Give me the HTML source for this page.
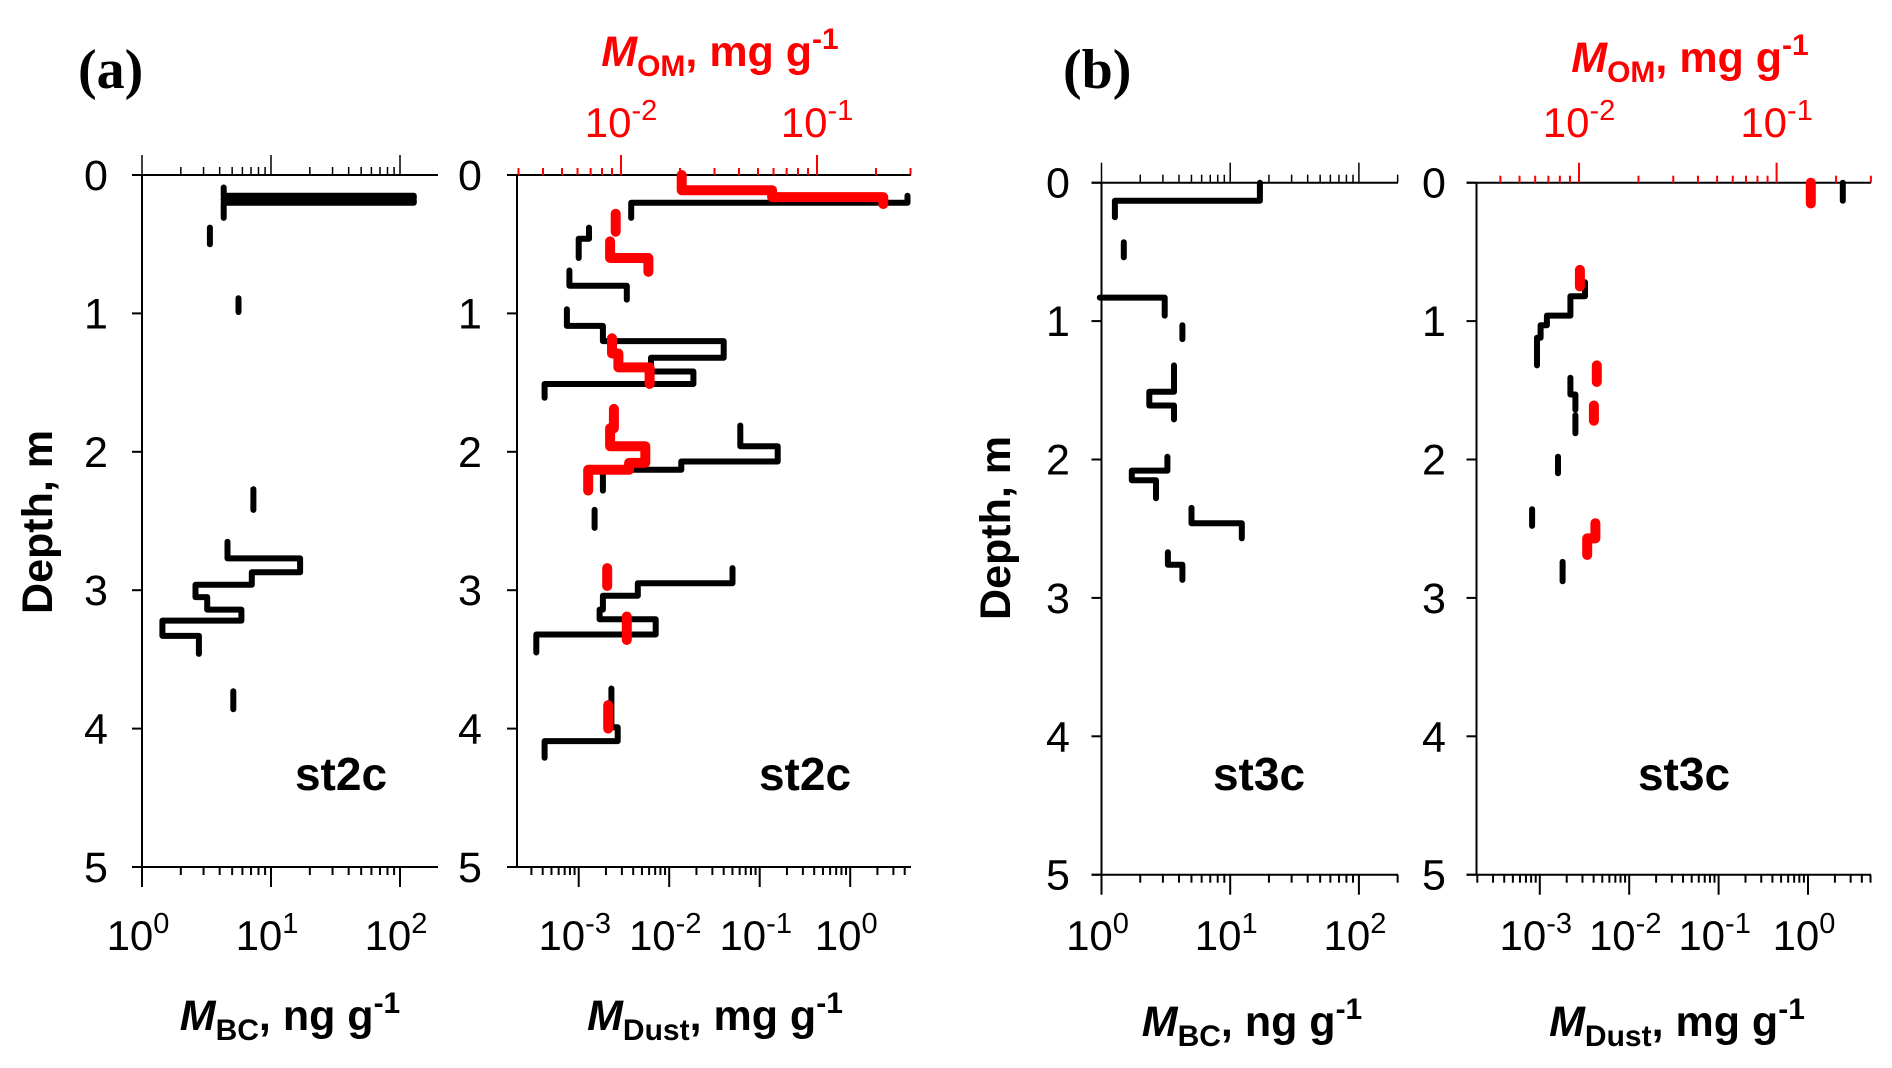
<!DOCTYPE html>
<html><head><meta charset="utf-8">
<style>
html,body{margin:0;padding:0;background:#fff;}
svg{display:block;font-family:"Liberation Sans",Arial,sans-serif;}
</style></head>
<body>
<svg id="fig" width="1892" height="1068" viewBox="0 0 1892 1068" xmlns="http://www.w3.org/2000/svg">
<text x="78" y="88" font-family="Liberation Serif, serif" font-weight="bold" font-size="56">(a)</text>
<text x="1063" y="88" font-family="Liberation Serif, serif" font-weight="bold" font-size="56">(b)</text>
<g id="layer"></g>
</svg>
<script>
// ---- data: each run is a list of [value, depthTop, depthBottom] steps ----
const bcA = [
  [[4.3,0.09,0.15],[128,0.15,0.167],[4.3,0.167,0.183],[128,0.183,0.2],[4.3,0.2,0.31]],
  [[3.36,0.38,0.5]],
  [[5.6,0.89,0.99]],
  [[7.3,2.27,2.42]],
  [[4.6,2.65,2.77],[16.8,2.77,2.87],[7.1,2.87,2.96],[2.6,2.96,3.05],[3.2,3.05,3.14],[5.9,3.14,3.22],[1.44,3.22,3.33],[2.76,3.33,3.46]],
  [[5.1,3.73,3.86]]
];
const dustA = [
  [[4.3,0.15,0.2],[0.0038,0.2,0.31]],
  [[0.0013,0.38,0.46],[0.001,0.46,0.6]],
  [[0.00079,0.69,0.8],[0.0034,0.8,0.9]],
  [[0.00074,0.97,1.09],[0.00185,1.09,1.2],[0.04,1.2,1.32],[0.0063,1.32,1.42],[0.0185,1.42,1.51],[0.00042,1.51,1.61]],
  [[0.061,1.81,1.96],[0.158,1.96,2.07],[0.0136,2.07,2.13],[0.00185,2.13,2.28]],
  [[0.0015,2.42,2.55]],
  [[0.05,2.84,2.95],[0.0045,2.95,3.04],[0.00185,3.04,3.14],[0.0017,3.14,3.21],[0.0071,3.21,3.32],[0.00034,3.32,3.45]],
  [[0.0023,3.71,3.99],[0.0027,3.99,4.09],[0.00042,4.09,4.21]]
];
const omA = [
  [[0.0204,0.0,0.11],[0.059,0.11,0.16],[0.218,0.16,0.21]],
  [[0.0094,0.28,0.41]],
  [[0.0088,0.48,0.6],[0.0138,0.6,0.7]],
  [[0.009,1.18,1.29],[0.0097,1.29,1.39],[0.014,1.39,1.51]],
  [[0.0092,1.69,1.83],[0.0088,1.83,1.96],[0.0133,1.96,2.08],[0.011,2.08,2.13],[0.0068,2.13,2.28]],
  [[0.0085,2.84,2.97]],
  [[0.0107,3.19,3.36]],
  [[0.0086,3.83,4.0]]
];
const bcB = [
  [[17,0.0,0.13],[1.27,0.13,0.25]],
  [[1.49,0.43,0.54]],
  [[0.97,0.83,0.83],[3.1,0.83,0.96]],
  [[4.25,1.03,1.13]],
  [[3.66,1.32,1.51],[2.35,1.51,1.61],[3.66,1.61,1.71]],
  [[3.25,1.98,2.08],[1.72,2.08,2.15],[2.65,2.15,2.28]],
  [[5.0,2.35,2.46],[12.3,2.46,2.57]],
  [[3.28,2.67,2.76],[4.25,2.76,2.87]]
];
const dustB = [
  [[2.45,0.0,0.13]],
  [[0.0032,0.72,0.82],[0.0022,0.82,0.96],[0.0012,0.96,1.03],[0.00102,1.03,1.12],[0.00093,1.12,1.32]],
  [[0.0022,1.41,1.53],[0.0025,1.53,1.64]],
  [[0.0025,1.68,1.81]],
  [[0.0016,1.98,2.1]],
  [[0.00082,2.36,2.48]],
  [[0.0018,2.74,2.88]]
];
const omB = [
  [[0.149,0.0,0.15]],
  [[0.0101,0.63,0.75]],
  [[0.0123,1.32,1.44]],
  [[0.0119,1.61,1.72]],
  [[0.0121,2.46,2.57],[0.011,2.57,2.69]]
];
const depthTicks = [0,1,2,3,4,5];
const bcTickLabels = [0,1,2];
const dustTickLabels = [-3,-2,-1,0];
const omTickLabels = [-2,-1];

const NS = "http://www.w3.org/2000/svg";
const layer = document.getElementById('layer');
function mk(tag, attrs, parent){
  const e = document.createElementNS(NS, tag);
  for (const k in attrs) e.setAttribute(k, attrs[k]);
  (parent||layer).appendChild(e);
  return e;
}
const panels = {
  aL:{ax:142, right:438, top:175, bottom:867, d0:0, x0:142, ppd:129, lab:96},
  aR:{ax:517, right:911, top:175, bottom:867, d0:-3, x0:578.7, ppd:90.5, o0:-2, ox0:621, oppd:196, lab:470},
  bL:{ax:1101.5, right:1398, top:182.7, bottom:874.7, d0:0, x0:1101.5, ppd:128.7, lab:1058},
  bR:{ax:1476.5, right:1871, top:182.7, bottom:874.7, d0:-3, x0:1539.8, ppd:89.4, o0:-2, ox0:1579, oppd:197.6, lab:1434}
};
function yScale(p, d){ return p.top + d*(p.bottom-p.top)/5; }
function xScale(p, v){ return p.x0 + (Math.log10(v)-p.d0)*p.ppd; }
function oScale(p, v){ return p.ox0 + (Math.log10(v)-p.o0)*p.oppd; }

function drawAxes(p, name, hasOM){
  const g = mk('g', {});
  
  
  mk('line',{x1:p.ax,y1:p.top,x2:p.ax,y2:p.bottom,stroke:'#000','stroke-width':2},g);
  mk('line',{x1:p.ax-10,y1:p.bottom,x2:p.right,y2:p.bottom,stroke:'#000','stroke-width':2},g);
  mk('line',{x1:p.ax-10,y1:p.top,x2:p.right,y2:p.top,stroke:'#000','stroke-width':2},g);
  depthTicks.forEach(d=>{
    const y=yScale(p,d);
    mk('line',{x1:p.ax-10,y1:y,x2:p.ax,y2:y,stroke:'#000','stroke-width':2},g);
    const t=mk('text',{x:p.lab,y:y+15,'font-size':43,'text-anchor':'middle'},g);
    
    
    t.textContent=String(d);
  });
  const lmin=(p.ax-p.x0)/p.ppd+p.d0, lmax=(p.right-p.x0)/p.ppd+p.d0;
  for(let n=Math.floor(lmin); n<=Math.ceil(lmax); n++){
    for(let k=1;k<=9;k++){
      const l=n+Math.log10(k);
      if(l<lmin-1e-6||l>lmax+1e-6) continue;
      const x=p.x0+(l-p.d0)*p.ppd, len=k===1?20:8;
      mk('line',{x1:x,y1:p.bottom,x2:x,y2:p.bottom+len,stroke:'#000','stroke-width':2},g);
      if(!hasOM) mk('line',{x1:x,y1:p.top,x2:x,y2:p.top-len,stroke:'#000','stroke-width':1.5},g);
    }
  }
  const labs = hasOM?dustTickLabels:bcTickLabels;
  labs.forEach(n=>{
    const x=p.x0+(n-p.d0)*p.ppd;
    const t=mk('text',{x:x-4,y:950,'font-size':42,'text-anchor':'middle'},g);
    
    
    t.innerHTML='10<tspan dy="-17" font-size="29">'+n+'</tspan>';
  });
  if(hasOM){
    const omin=(p.ax-p.ox0)/p.oppd+p.o0, omax=(p.right-p.ox0)/p.oppd+p.o0;
    for(let n=Math.floor(omin); n<=Math.ceil(omax); n++){
      for(let k=1;k<=9;k++){
        const l=n+Math.log10(k);
        if(l<omin-1e-6||l>omax+1e-6) continue;
        const x=p.ox0+(l-p.o0)*p.oppd, len=k===1?20:7;
        mk('line',{x1:x,y1:p.top,x2:x,y2:p.top-len,stroke:'#f00','stroke-width':2},g);
      }
    }
    omTickLabels.forEach(n=>{
      const x=p.ox0+(n-p.o0)*p.oppd;
      const t=mk('text',{x:x,y:137,'font-size':42,'text-anchor':'middle',fill:'#f00'},g);
      
      
      t.innerHTML='10<tspan dy="-17" font-size="29">'+n+'</tspan>';
    });
  }
}
function drawRuns(p, runs, scale, color, w, name){
  const g = mk('g', {});
  
  
  runs.forEach(run=>{
    let dstr='';
    run.forEach((s,i)=>{
      const x=scale(p,s[0]), y1=yScale(p,s[1]), y2=yScale(p,s[2]);
      dstr += (i===0?'M':'L')+x.toFixed(1)+','+y1.toFixed(1)+' L'+x.toFixed(1)+','+y2.toFixed(1)+' ';
    });
    const path=mk('path',{d:dstr,fill:'none',stroke:color,'stroke-width':w,'stroke-linecap':'round','stroke-linejoin':'round'},g);
    
    
  });
}
drawAxes(panels.aL,'bc-st2c',false);
drawAxes(panels.aR,'dust-st2c',true);
drawAxes(panels.bL,'bc-st3c',false);
drawAxes(panels.bR,'dust-st3c',true);
drawRuns(panels.aL, bcA, xScale, '#000', 6, 'bc-st2c-series');
drawRuns(panels.aR, dustA, xScale, '#000', 6, 'dust-st2c-series');
drawRuns(panels.aR, omA, oScale, '#f00', 10, 'om-st2c-series');
drawRuns(panels.bL, bcB, xScale, '#000', 6, 'bc-st3c-series');
drawRuns(panels.bR, dustB, xScale, '#000', 6, 'dust-st3c-series');
drawRuns(panels.bR, omB, oScale, '#f00', 10, 'om-st3c-series');

function title(x,y,html,name,color,rot){
  const t=mk('text',{x:x,y:y,'font-size':43,'font-weight':'bold','text-anchor':'middle',fill:color||'#000'});
  if(rot) t.setAttribute('transform','rotate(-90 '+x+' '+y+')');
  
  
  t.innerHTML=html;
}
const bcT='<tspan font-style="italic">M</tspan><tspan dy="10" font-size="30">BC</tspan><tspan dy="-10">, ng g</tspan><tspan dy="-17" font-size="30">-1</tspan>';
const duT='<tspan font-style="italic">M</tspan><tspan dy="10" font-size="30">Dust</tspan><tspan dy="-10">, mg g</tspan><tspan dy="-17" font-size="30">-1</tspan>';
const omT='<tspan font-style="italic">M</tspan><tspan dy="10" font-size="30">OM</tspan><tspan dy="-10">, mg g</tspan><tspan dy="-17" font-size="30">-1</tspan>';
title(290,1030,bcT,'x-axis-title-bc-a');
title(715,1030,duT,'x-axis-title-dust-a');
title(1252,1036,bcT,'x-axis-title-bc-b');
title(1677,1036,duT,'x-axis-title-dust-b');
title(720,66,omT,'om-axis-title-a','#f00');
title(1690,72,omT,'om-axis-title-b','#f00');
title(52,522,'Depth, m','y-axis-title-a','#000',true);
title(1010,528,'Depth, m','y-axis-title-b','#000',true);
function st(x,y,s,name){
  const t=mk('text',{x:x,y:y,'font-size':46,'font-weight':'bold','text-anchor':'middle'});
  
  
  t.textContent=s;
}
st(341,790,'st2c','site-label-bc-a');
st(805,790,'st2c','site-label-dust-a');
st(1259,790,'st3c','site-label-bc-b');
st(1684,790,'st3c','site-label-dust-b');
</script>
</body></html>
